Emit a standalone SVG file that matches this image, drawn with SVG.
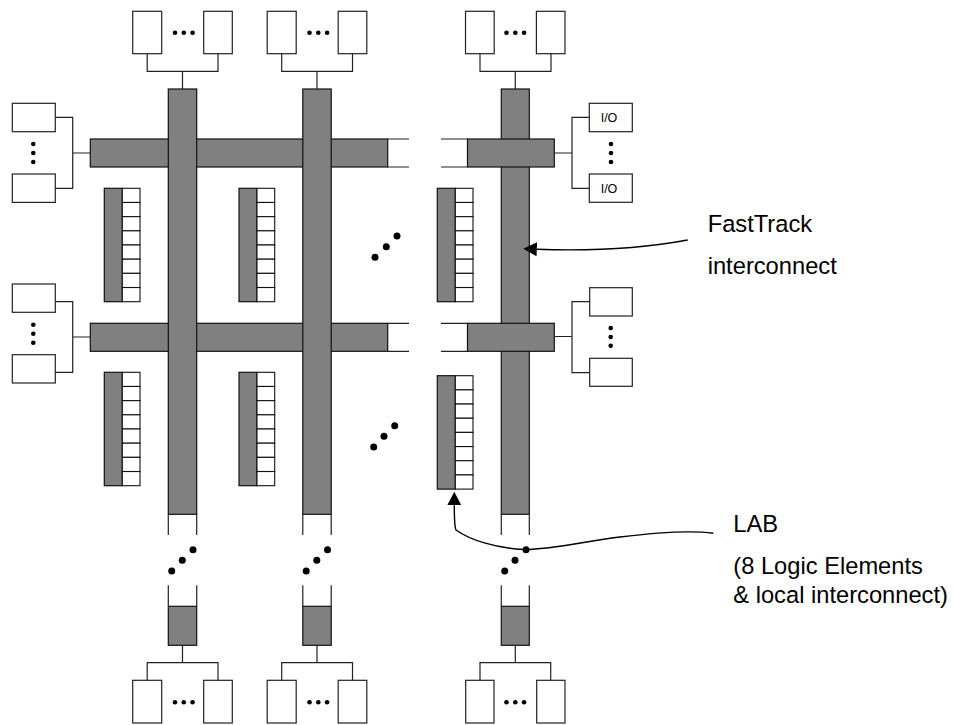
<svg xmlns="http://www.w3.org/2000/svg" width="953" height="725" viewBox="0 0 953 725">
<defs>
<style>
.bar{fill:#808080;stroke:#111;stroke-width:1.2}
.box{fill:#fff;stroke:#222;stroke-width:1.2}
.ln{fill:none;stroke:#222;stroke-width:1.2}
.cell{fill:#fff;stroke:#111;stroke-width:1.1}
.dot{fill:#000}
.lbl{font-family:"Liberation Sans",Arial,sans-serif;font-size:23.7px;fill:#000}
.io{font-family:"Liberation Sans",Arial,sans-serif;font-size:12.5px;fill:#000;text-anchor:middle}
.arr{fill:none;stroke:#000;stroke-width:1.4}
</style>
<marker id="ah" markerUnits="userSpaceOnUse" viewBox="0 -8 14 16" refX="0" refY="0" markerWidth="14" markerHeight="16" orient="auto">
<path d="M0,-7 L13.5,0 L0,7 z" fill="#000"/>
</marker>
<g id="lab">
<rect class="bar" x="0" y="0" width="18" height="113.4"/>
<rect class="cell" x="18" y="0" width="17.7" height="14.175"/>
<rect class="cell" x="18" y="14.175" width="17.7" height="14.175"/>
<rect class="cell" x="18" y="28.35" width="17.7" height="14.175"/>
<rect class="cell" x="18" y="42.525" width="17.7" height="14.175"/>
<rect class="cell" x="18" y="56.7" width="17.7" height="14.175"/>
<rect class="cell" x="18" y="70.875" width="17.7" height="14.175"/>
<rect class="cell" x="18" y="85.05" width="17.7" height="14.175"/>
<rect class="cell" x="18" y="99.225" width="17.7" height="14.175"/>
</g>
</defs>
<rect width="953" height="725" fill="#fff"/>

<!-- horizontal FastTrack rows, left part (under columns 1 and 2) -->
<g id="row1-left">
<rect class="bar" x="90.3" y="139" width="297.4" height="28"/>
<path class="ln" d="M387.7 139 H409 M387.7 167 H409"/>
</g>
<g id="row2-left">
<rect class="bar" x="90.3" y="323.3" width="297.4" height="28"/>
<path class="ln" d="M387.7 323.3 H409 M387.7 351.3 H409"/>
</g>

<!-- column 1 -->
<g id="col1-top-io">
<rect class="box" x="132.7" y="11.3" width="29" height="42.4"/>
<rect class="box" x="203.7" y="11.3" width="28.6" height="42.4"/>
<circle class="dot" cx="175" cy="32.7" r="2.3"/><circle class="dot" cx="183.8" cy="32.7" r="2.3"/><circle class="dot" cx="192.6" cy="32.7" r="2.3"/>
</g>
<g id="col1-bar">
<rect class="bar" x="168.3" y="89" width="28.4" height="425.3"/>
<path class="ln" d="M168.3 514.3 V535 M196.7 514.3 V535"/>
<circle class="dot" cx="171.7" cy="571" r="3.5"/><circle class="dot" cx="182.3" cy="560.3" r="3.5"/><circle class="dot" cx="193" cy="549.7" r="3.5"/>
<path class="ln" d="M168.3 585.3 V606.3 M196.7 585.3 V606.3"/>
<rect class="bar" x="168.3" y="606.3" width="28.4" height="39"/>
</g>
<g id="col1-bottom-io">
<rect class="box" x="132.7" y="680.3" width="29" height="42.7"/>
<rect class="box" x="203.7" y="680.3" width="28.6" height="42.7"/>
<circle class="dot" cx="175" cy="702.3" r="2.3"/><circle class="dot" cx="183.8" cy="702.3" r="2.3"/><circle class="dot" cx="192.6" cy="702.3" r="2.3"/>
</g>

<!-- column 2 -->
<g id="col2-top-io">
<rect class="box" x="267.2" y="11.3" width="29" height="42.4"/>
<rect class="box" x="338.2" y="11.3" width="28.6" height="42.4"/>
<circle class="dot" cx="309.5" cy="32.7" r="2.3"/><circle class="dot" cx="318.3" cy="32.7" r="2.3"/><circle class="dot" cx="327.1" cy="32.7" r="2.3"/>
</g>
<g id="col2-bar">
<rect class="bar" x="302.8" y="89" width="28.4" height="425.3"/>
<path class="ln" d="M302.8 514.3 V535 M331.2 514.3 V535"/>
<circle class="dot" cx="306.2" cy="571" r="3.5"/><circle class="dot" cx="316.8" cy="560.3" r="3.5"/><circle class="dot" cx="327.5" cy="549.7" r="3.5"/>
<path class="ln" d="M302.8 585.3 V606.3 M331.2 585.3 V606.3"/>
<rect class="bar" x="302.8" y="606.3" width="28.4" height="39"/>
</g>
<g id="col2-bottom-io">
<rect class="box" x="267.2" y="680.3" width="29" height="42.7"/>
<rect class="box" x="338.2" y="680.3" width="28.6" height="42.7"/>
<circle class="dot" cx="309.5" cy="702.3" r="2.3"/><circle class="dot" cx="318.3" cy="702.3" r="2.3"/><circle class="dot" cx="327.1" cy="702.3" r="2.3"/>
</g>

<!-- column 3 -->
<g id="col3-top-io">
<rect class="box" x="465.5" y="11.3" width="28.7" height="42.4"/>
<rect class="box" x="536.4" y="11.3" width="28.6" height="42.4"/>
<circle class="dot" cx="506.5" cy="32.7" r="2.3"/><circle class="dot" cx="515.3" cy="32.7" r="2.3"/><circle class="dot" cx="524.1" cy="32.7" r="2.3"/>
</g>
<g id="col3-bar">
<rect class="bar" x="501.3" y="89" width="28" height="425.3"/>
<path class="ln" d="M501.3 514.3 V535 M529.3 514.3 V535"/>
<circle class="dot" cx="504.7" cy="571" r="3.5"/><circle class="dot" cx="515" cy="560.3" r="3.5"/><circle class="dot" cx="526" cy="549.7" r="3.5"/>
<path class="ln" d="M501.3 585.3 V606.3 M529.3 585.3 V606.3"/>
<rect class="bar" x="501.3" y="606.3" width="28" height="39"/>
</g>
<g id="col3-bottom-io">
<rect class="box" x="465.7" y="680.3" width="28.3" height="42.7"/>
<rect class="box" x="536.7" y="680.3" width="28.3" height="42.7"/>
<circle class="dot" cx="506.5" cy="702.3" r="2.3"/><circle class="dot" cx="515.3" cy="702.3" r="2.3"/><circle class="dot" cx="524.1" cy="702.3" r="2.3"/>
</g>

<!-- horizontal FastTrack rows, right part (over column 3) -->
<g id="row1-right">
<path class="ln" d="M441 139 H467.5 M441 167 H467.5"/>
<rect class="bar" x="467.5" y="139" width="86.8" height="28"/>
</g>
<g id="row2-right">
<path class="ln" d="M441 323.3 H467.5 M441 351.3 H467.5"/>
<rect class="bar" x="467.5" y="323.3" width="86.8" height="28"/>
</g>

<!-- LABs -->
<g id="lab-c1-r1"><use href="#lab" x="104.3" y="188.3"/></g>
<g id="lab-c2-r1"><use href="#lab" x="239" y="188.3"/></g>
<g id="lab-c3-r1"><use href="#lab" x="437.3" y="188.3"/></g>
<g id="lab-c1-r2"><use href="#lab" x="104.3" y="372.3"/></g>
<g id="lab-c2-r2"><use href="#lab" x="239" y="372.3"/></g>
<g id="lab-c3-r2"><use href="#lab" x="437.3" y="375.7"/></g>

<!-- middle ellipses -->
<g id="ellipsis-r1">
<circle class="dot" cx="375" cy="257.3" r="3.5"/><circle class="dot" cx="386.3" cy="246.7" r="3.5"/><circle class="dot" cx="397" cy="236" r="3.5"/>
</g>
<g id="ellipsis-r2">
<circle class="dot" cx="373.7" cy="447" r="3.5"/><circle class="dot" cx="384" cy="436.3" r="3.5"/><circle class="dot" cx="394.7" cy="425.7" r="3.5"/>
</g>

<!-- left IO -->
<g id="left-io-r1">
<rect class="box" x="12.3" y="103.3" width="43" height="28.4"/>
<rect class="box" x="12.3" y="174" width="43" height="28.4"/>
<circle class="dot" cx="33.3" cy="144" r="2.3"/><circle class="dot" cx="33.3" cy="153" r="2.3"/><circle class="dot" cx="33.3" cy="162" r="2.3"/>
</g>
<g id="left-io-r2">
<rect class="box" x="12.3" y="284" width="43" height="28.3"/>
<rect class="box" x="12.3" y="354.7" width="43" height="28.3"/>
<circle class="dot" cx="33.3" cy="324.7" r="2.3"/><circle class="dot" cx="33.3" cy="333.7" r="2.3"/><circle class="dot" cx="33.3" cy="342.7" r="2.3"/>
</g>

<!-- right IO -->
<g id="right-io-r1">
<rect class="box" x="589.3" y="103.3" width="43" height="28.4"/>
<text class="io" x="609" y="122.3">I/O</text>
<rect class="box" x="589.3" y="174" width="43" height="28.3"/>
<text class="io" x="609" y="193">I/O</text>
<circle class="dot" cx="611" cy="144" r="2.3"/><circle class="dot" cx="611" cy="153" r="2.3"/><circle class="dot" cx="611" cy="162" r="2.3"/>
</g>
<g id="right-io-r2">
<rect class="box" x="589.7" y="287.7" width="42.6" height="28.3"/>
<rect class="box" x="589.7" y="358.3" width="42.6" height="28"/>
<circle class="dot" cx="610.7" cy="328" r="2.3"/><circle class="dot" cx="610.7" cy="337" r="2.3"/><circle class="dot" cx="610.7" cy="345.7" r="2.3"/>
</g>

<!-- connectors -->
<g id="connectors">
<path class="ln" d="M147.2 53.7 V71.3 H218 V53.7 M182.5 71.3 V89"/>
<path class="ln" d="M281.7 53.7 V71.3 H352.5 V53.7 M317 71.3 V89"/>
<path class="ln" d="M480 53.7 V71.3 H551 V53.7 M515.3 71.3 V89"/>
<path class="ln" d="M147.2 680.3 V662.7 H218 V680.3 M182.5 645.3 V662.7"/>
<path class="ln" d="M281.7 680.3 V662.7 H352.5 V680.3 M317 645.3 V662.7"/>
<path class="ln" d="M480 680.3 V662.7 H550.7 V680.3 M515.3 645.3 V662.7"/>
<path class="ln" d="M55.3 117.3 H72.7 V188.3 H55.3 M72.7 153 H90.3"/>
<path class="ln" d="M55.3 301.7 H72.7 V372.3 H55.3 M72.7 337 H90.3"/>
<path class="ln" d="M589.3 117.3 H572 V188.3 H589.3 M554.3 153 H572"/>
<path class="ln" d="M589.7 301.7 H572 V372.7 H589.7 M554.3 336.5 H572"/>
<path class="arr" d="M687.7 240 C650 247 600 251.5 536.8 249.3" marker-end="url(#ah)"/>
<path class="arr" d="M713.3 533.3 C690 530 660 532 620 537 C580 542 550 550 524 549.5 C495 548 470 540 456 530 C454.5 527 454.3 520 454.3 505.2" marker-end="url(#ah)"/>
</g>

<!-- labels -->
<g id="label-fasttrack">
<text class="lbl" x="707.7" y="232.3">FastTrack</text>
<text class="lbl" x="707.7" y="274">interconnect</text>
</g>
<g id="label-lab">
<text class="lbl" x="733.3" y="531.7">LAB</text>
<text class="lbl" x="733.3" y="574.3">(8 Logic Elements</text>
<text class="lbl" x="733.3" y="603.3">&amp; local interconnect)</text>
</g>
</svg>
